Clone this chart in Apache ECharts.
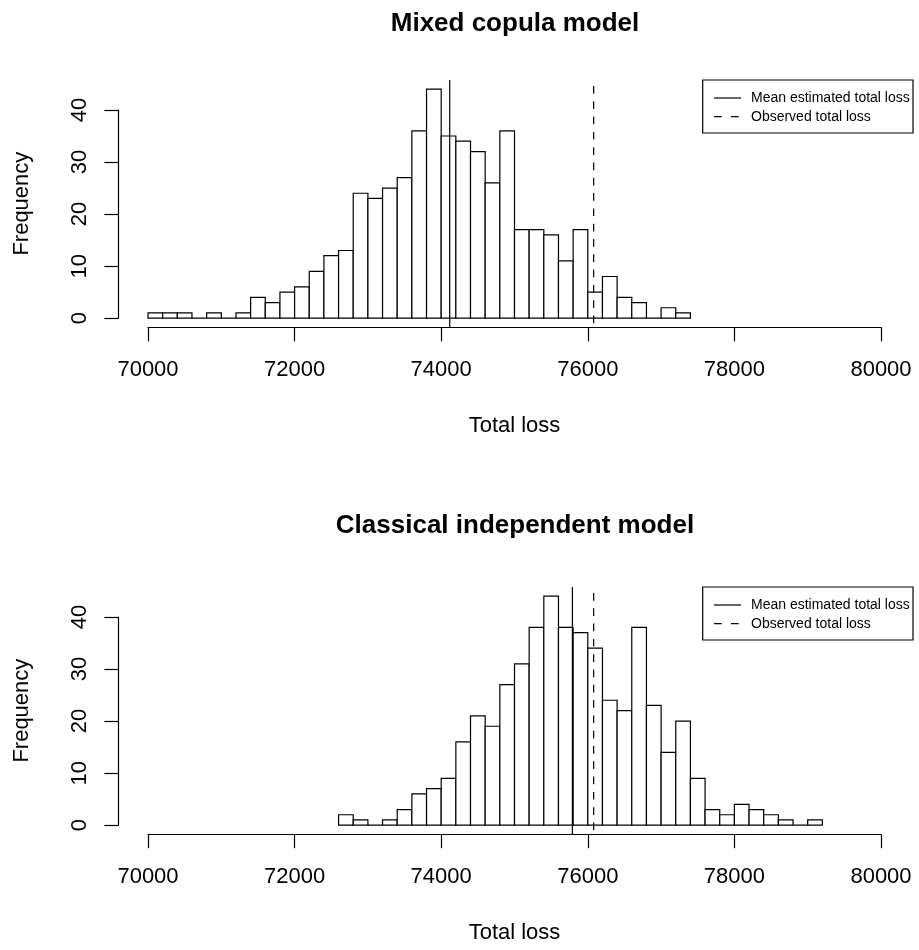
<!DOCTYPE html>
<html><head><meta charset="utf-8">
<script src="https://cdn.jsdelivr.net/npm/echarts@6/dist/echarts.min.js"></script>
<style>html,body{margin:0;padding:0;background:#fff}#c{width:919px;height:950px}</style>
</head><body><div id="c"></div>
<script>
// ---------------- data ----------------
const binWidth = 200;
const panelTitles = ['Mixed copula model', 'Classical independent model'];
const xAxisName = 'Total loss';
const yAxisName = 'Frequency';
const legendLabels = ['Mean estimated total loss', 'Observed total loss'];

const topBinStart = 70000;
const topCounts = [1,1,1,0,1,0,1,4,3,5,6,9,12,13,24,23,25,27,36,44,35,34,32,26,36,17,17,16,11,17,5,8,4,3,0,2,1];
const bottomBinStart = 72600;
const bottomCounts = [2,1,0,1,3,6,7,9,16,21,19,27,31,38,44,38,37,34,24,22,38,23,14,20,9,3,2,4,3,2,1,0,1];

const topMean = 74116;
const bottomMean = 75790;
const observedLoss = 76080;

const xTickMin = 70000, xTickMax = 80000, xTickStep = 2000;
const yTickMin = 0, yTickMax = 40, yTickStep = 10;

// ---------------- layout ----------------
const FONT = 'Liberation Sans, Arial, Helvetica, sans-serif';
const LW = 1.2;
const panelOffsets = [0, 507];
const titleTops = [11, 513];

function bins(start, counts) {
  return counts.map((c, i) => [start + i * binWidth, c]);
}

const option = {
  backgroundColor: '#fff',
  animation: false,
  title: [], grid: [], xAxis: [], yAxis: [], series: [], graphic: []
};

function addPanel(p, start, counts, mean) {
  const off = panelOffsets[p];
  const yMaxData = Math.max(...counts);
  const yLo = -0.04 * yMaxData, yHi = 1.04 * yMaxData;
  const gData = option.grid.length;
  option.title.push({
    text: panelTitles[p], left: 515, top: titleTops[p], textAlign: 'center', padding: 0,
    textStyle: {fontFamily: FONT, fontSize: 26, fontWeight: 'bold', color: '#000', lineHeight: 26}
  });
  // data grid (x axis visible)
  option.grid.push({left: 148, width: 733, top: 80 + off, height: 247.3, outerBoundsMode: 'none', containLabel: false});
  option.xAxis.push({
    type: 'value', gridIndex: gData, min: xTickMin, max: xTickMax, interval: xTickStep,
    position: 'bottom',
    axisLine: {show: true, onZero: false, lineStyle: {color: '#000', width: LW}},
    axisTick: {show: true, inside: false, length: 14, lineStyle: {color: '#000', width: LW}},
    axisLabel: {show: true, margin: 32, color: '#000', fontSize: 22, fontFamily: FONT, showMinLabel: true, showMaxLabel: true,
      formatter: v => String(v)},
    splitLine: {show: false},
    name: xAxisName, nameLocation: 'middle', nameGap: 88,
    nameTextStyle: {color: '#000', fontSize: 22, fontFamily: FONT}
  });
  option.yAxis.push({
    type: 'value', gridIndex: gData, min: yLo, max: yHi, position: 'left',
    axisLine: {show: false, onZero: false}, axisTick: {show: false}, axisLabel: {show: false}, splitLine: {show: false},
    name: yAxisName, nameLocation: 'middle', nameGap: 115,
    nameTextStyle: {color: '#000', fontSize: 22, fontFamily: FONT}
  });
  // y axis grid
  const gY = option.grid.length;
  option.grid.push({left: 118.3, width: 10, top: 110 + off, height: 208.2, outerBoundsMode: 'none', containLabel: false});
  option.xAxis.push({type: 'value', gridIndex: gY, min: 0, max: 1, show: false});
  option.yAxis.push({
    type: 'value', gridIndex: gY, min: yTickMin, max: yTickMax, interval: yTickStep, position: 'left',
    axisLine: {show: true, onZero: false, lineStyle: {color: '#000', width: LW}},
    axisTick: {show: true, inside: false, length: 14, lineStyle: {color: '#000', width: LW}},
    axisLabel: {show: true, rotate: 90, margin: 27, color: '#000', fontSize: 22, fontFamily: FONT, showMinLabel: true, showMaxLabel: true},
    splitLine: {show: false}
  });
  option.series.push({
    type: 'custom', xAxisIndex: gData, yAxisIndex: gData, z: 2,
    data: bins(start, counts),
    renderItem: function (params, api) {
      const x0 = api.value(0), c = api.value(1);
      const a = api.coord([x0, c]);
      const b = api.coord([x0 + binWidth, 0]);
      return {type: 'rect', shape: {x: a[0], y: a[1], width: b[0] - a[0], height: b[1] - a[1]},
        style: {fill: '#fff', stroke: '#000', lineWidth: LW}};
    }
  });
  option.series.push({
    type: 'line', name: legendLabels[0], xAxisIndex: gData, yAxisIndex: gData, z: 3, clip: false,
    symbol: 'none', data: [[mean, yHi], [mean, yLo]],
    lineStyle: {color: '#000', width: LW, type: 'solid'}
  });
  option.series.push({
    type: 'line', name: legendLabels[1], xAxisIndex: gData, yAxisIndex: gData, z: 3, clip: false,
    symbol: 'none', data: [[observedLoss, yHi], [observedLoss, yLo]],
    lineStyle: {color: '#000', width: LW, type: [7.7, 7.6], dashOffset: 9.3}
  });
  // legend box (absolute positions)
  option.graphic.push(
    {type: 'rect', z: 10, shape: {x: 702.7, y: 80 + off, width: 210.3, height: 53}, style: {fill: '#fff', stroke: '#000', lineWidth: LW}},
    {type: 'line', z: 11, shape: {x1: 714, y1: 98 + off, x2: 741, y2: 98 + off}, style: {stroke: '#000', lineWidth: LW}},
    {type: 'line', z: 11, shape: {x1: 714, y1: 116.7 + off, x2: 741, y2: 116.7 + off}, style: {stroke: '#000', lineWidth: LW, lineDash: [7.7, 9.3]}},
    {type: 'text', z: 11, x: 751, y: 98 + off, style: {text: legendLabels[0], fill: '#000', font: '14px ' + FONT, verticalAlign: 'middle', align: 'left'}},
    {type: 'text', z: 11, x: 751, y: 116.7 + off, style: {text: legendLabels[1], fill: '#000', font: '14px ' + FONT, verticalAlign: 'middle', align: 'left'}}
  );
}

addPanel(0, topBinStart, topCounts, topMean);
addPanel(1, bottomBinStart, bottomCounts, bottomMean);

const chart = echarts.init(document.getElementById('c'), null, {renderer: 'canvas'});
chart.setOption(option);
</script>
</body></html>
